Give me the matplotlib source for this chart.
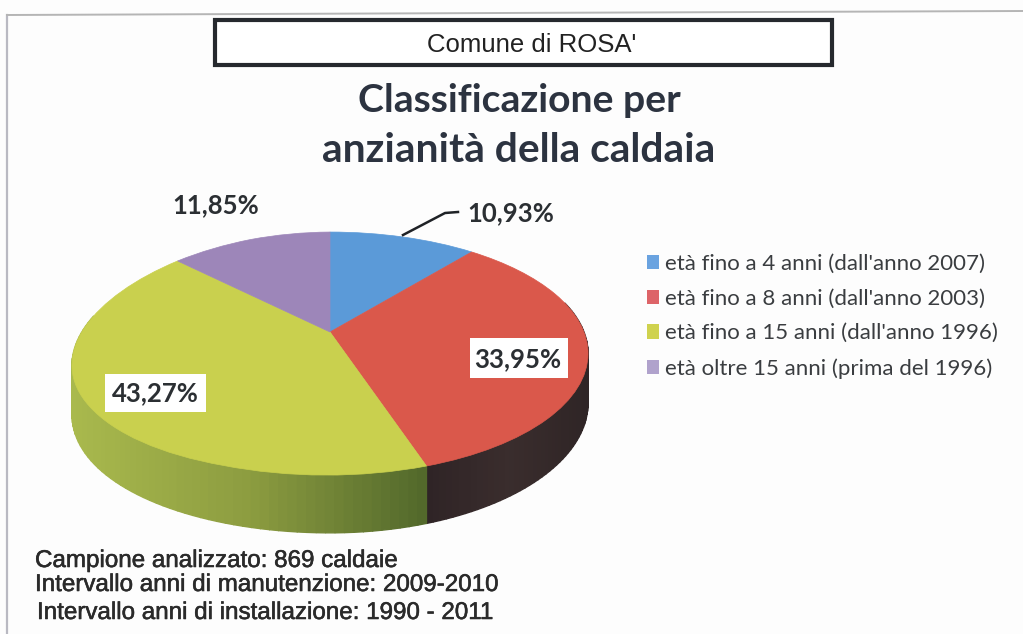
import matplotlib

matplotlib.use("Agg")

import matplotlib.patheffects as pe
import matplotlib.pyplot as plt
import numpy as np
from matplotlib.colors import LinearSegmentedColormap
from matplotlib.patches import Patch, PathPatch, Rectangle
from matplotlib.path import Path

shares = [10.93, 33.95, 43.27, 11.85]
value_labels = ["10,93%", "33,95%", "43,27%", "11,85%"]
legend_labels = [
    "età fino a 4 anni (dall'anno 2007)",
    "età fino a 8 anni (dall'anno 2003)",
    "età fino a 15 anni (dall'anno 1996)",
    "età oltre 15 anni (prima del 1996)",
]
top_colors = ["#5b9ad8", "#da584b", "#c9d04e", "#9d86b9"]
side_colors = [
    ["#2f5680", "#2f5680"],
    ["#2f2426", "#3a2d2d", "#2f2526"],
    ["#a9b94d", "#8c9c40", "#52682b"],
    ["#5d4d70", "#5d4d70"],
]
side_ranges = [(330, 470), (425, 163), (72, 350), (172, 160)]
legend_colors = ["#6aa3e0", "#dd6468", "#cfd24e", "#b0a2cc"]
notes = [
    "Campione analizzato: 869 caldaie",
    "Intervallo anni di manutenzione: 2009-2010",
    "Intervallo anni di installazione: 1990 - 2011",
]

# tilted pie: centre and radii in pixels, k gives the perspective
CX, CY, RX, RY, K, DEPTH, SAG = 330, 332, 254, 117.6, 0.1765, 47.8, 12


def project(x, y):
    x = np.asarray(x, dtype=float)
    y = np.asarray(y, dtype=float)
    w = 1 + K * y
    # the left rim sits a little lower than the right one in the picture
    sag = SAG * np.where(x < 0, x * x, 0)
    return CX + RX * x / w, CY - RY * y / w + sag


fig = plt.figure(figsize=(10.23, 6.34), dpi=100, facecolor="#fdfdfd")
ax = fig.add_axes([0, 0, 1, 1])
ax.set_xlim(0, 1023)
ax.set_ylim(634, 0)
ax.axis("off")

# the library computes the slices, then they get projected onto the page
pie_ax = fig.add_axes([0, 0, 0.1, 0.1])
wedges, _ = pie_ax.pie(shares, startangle=90, counterclock=False, radius=1)
slices = []
for wedge in wedges:
    verts = wedge.get_patch_transform().transform(wedge.get_path().vertices)
    slices.append((wedge.theta1, wedge.theta2, verts, wedge.get_path().codes))
pie_ax.remove()

for (theta1, theta2, verts, codes), shades, (x_start, x_span) in zip(slices, side_colors, side_ranges):
    cmap = LinearSegmentedColormap.from_list("side", shades)
    angles = np.radians(np.linspace(theta1, theta2, 90))
    for a0, a1 in zip(angles[:-1], angles[1:]):
        if np.sin(a0) > 0.25:
            continue
        x0, y0 = project(np.cos(a0), np.sin(a0))
        x1, y1 = project(np.cos(a1), np.sin(a1))
        d0 = DEPTH / (1 + K * np.sin(a0))
        d1 = DEPTH / (1 + K * np.sin(a1))
        shade = np.clip((x0 - x_start) / x_span, 0, 1)
        ax.fill([x0, x1, x1, x0], [y0, y1, y1 + d1, y0 + d0],
                color=cmap(shade), lw=1.0, zorder=2)

for (theta1, theta2, verts, codes), color in zip(slices, top_colors):
    px, py = project(verts[:, 0], verts[:, 1])
    ax.add_patch(PathPatch(Path(np.column_stack([px, py]), codes),
                           facecolor=color, edgecolor=color, lw=0.5, zorder=3))

# heading
ax.add_patch(Rectangle((215, 20), 617, 45, facecolor="white", edgecolor="#26292e", lw=3, zorder=4))
ax.text(532, 45, "Comune di ROSA'", family="Liberation Sans", fontsize=18.5,
        color="#222222", ha="center", va="center", zorder=5)
ax.text(519, 101, "Classificazione per", family="Lato", weight="bold", fontsize=28.2,
        color="#2c3340", ha="center", va="center")
ax.text(519, 151, "anzianità della caldaia", family="Lato", weight="bold", fontsize=29.3,
        color="#2c3340", ha="center", va="center")

# value labels
label_font = dict(family="Lato", weight="bold", fontsize=18.5, color="#2b2f33",
                  ha="center", va="center", zorder=6)
ax.plot([403, 445, 458], [235, 213, 212], color="#1f2226", lw=1.8, zorder=5)
ax.text(511, 213, value_labels[0], **label_font)
ax.text(216, 205, value_labels[3], **label_font)
ax.add_patch(Rectangle((470, 338), 98, 40, facecolor="white", edgecolor="none", zorder=5))
ax.text(518, 359, value_labels[1], **label_font)
ax.add_patch(Rectangle((105, 374), 101, 38, facecolor="white", edgecolor="none", zorder=5))
ax.text(155, 393, value_labels[2], **label_font)

# legend
handles = [Patch(facecolor=c, edgecolor="none") for c in legend_colors]
ax.legend(handles, legend_labels, loc="upper left", bbox_to_anchor=(647 / 1023, 1 - 253.5 / 634),
          frameon=False, prop={"family": "Lato", "size": 16}, labelcolor="#3a3d40",
          handlelength=0.55, handleheight=0.6, handletextpad=0.25, labelspacing=0.67,
          borderaxespad=0, borderpad=0)

# sample notes
stroke = [pe.withStroke(linewidth=0.4, foreground="#2a2a2a")]
for text, x, y in zip(notes, [35, 35, 37], [561, 585, 613]):
    ax.text(x, y, text, family="Liberation Sans", fontsize=17.4, color="#2a2a2a",
            ha="left", va="center", path_effects=stroke)

# scanned page edge
ax.plot([7, 7], [634, 15], color="#b9b9c2", lw=1.6, zorder=1)
ax.plot([7, 500, 1023], [15, 13, 11], color="#b5b5b5", lw=1.4, zorder=1)

fig.savefig("out.png", dpi=100, facecolor=fig.get_facecolor())
